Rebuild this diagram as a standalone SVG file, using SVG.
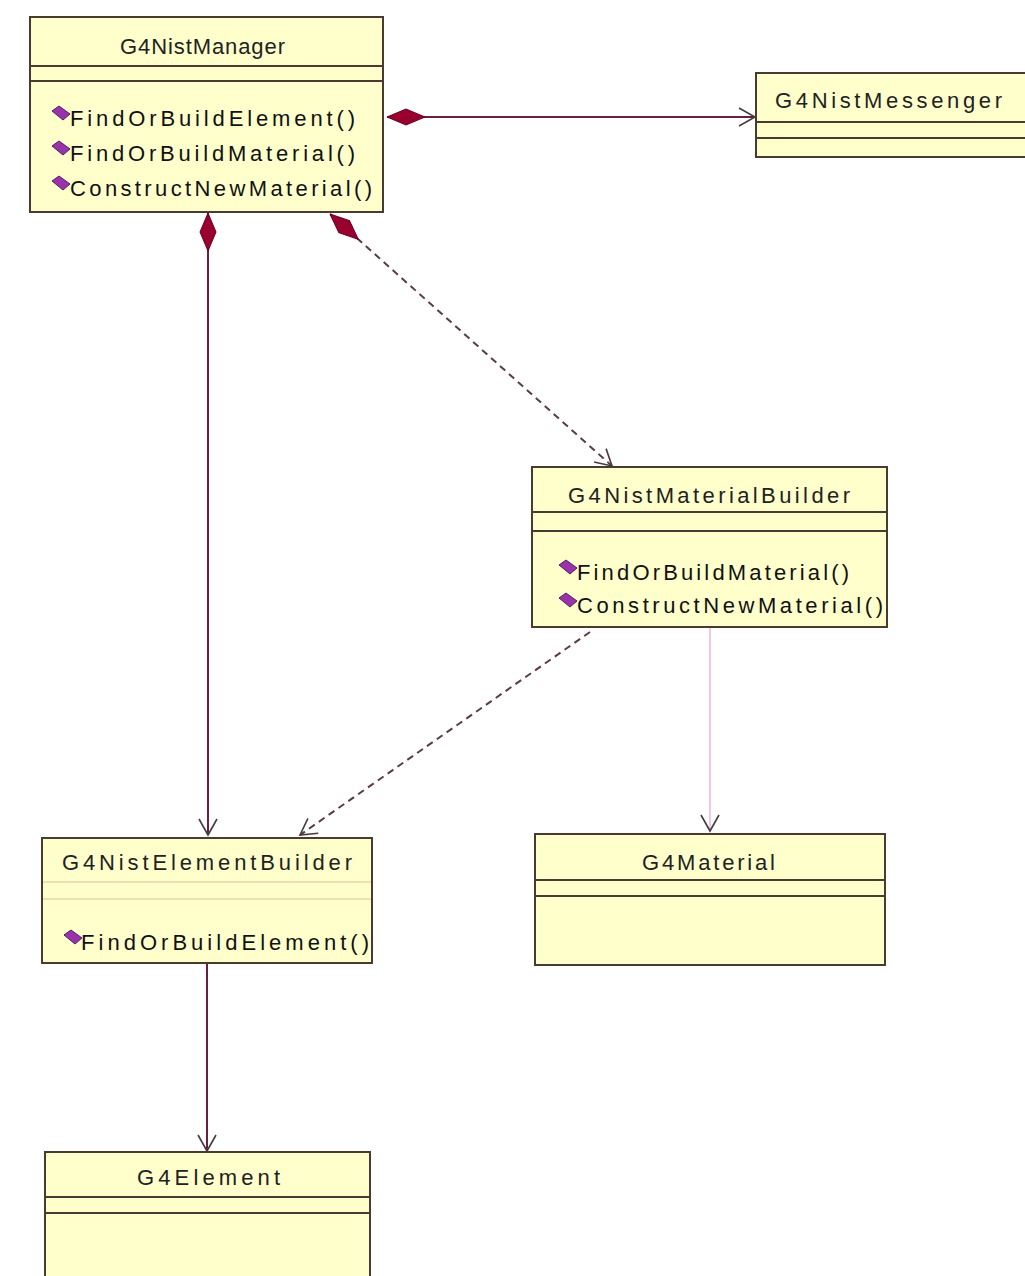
<svg xmlns="http://www.w3.org/2000/svg" width="1025" height="1276" viewBox="0 0 1025 1276">
<style>
.box{fill:#ffffcc;stroke:#4a3a30;stroke-width:2}
.sep{stroke:#4a3a30;stroke-width:2}
.sep-faint{stroke:#f0e0b0;stroke-width:2}
.name{font-family:"Liberation Sans",Arial,sans-serif;font-size:22px;fill:#222}
.op{font-family:"Liberation Sans",Arial,sans-serif;font-size:22px;fill:#111}
.icon{fill:#9933aa;stroke:#551a66;stroke-width:1}
.conn{fill:none;stroke:#6a1f45;stroke-width:2}
.dash{fill:none;stroke:#5a3a4a;stroke-width:2;stroke-dasharray:7 5}
.pale{fill:none;stroke:#f2c6e6;stroke-width:2}
</style>
<defs>
<marker id="diamond" markerUnits="userSpaceOnUse" markerWidth="40" markerHeight="20" viewBox="0 -10 40 20" refX="0" refY="0" orient="auto">
<path d="M0 0 L19 -8 L38 0 L19 8 Z" fill="#99002e" stroke="#6a0022" stroke-width="1"/>
</marker>
<marker id="open" markerUnits="userSpaceOnUse" markerWidth="20" markerHeight="22" viewBox="-18 -11 20 22" refX="0" refY="0" orient="auto">
<path d="M-16 -9 L0 0 L-16 9" fill="none" stroke="#4a3a40" stroke-width="1.6"/>
</marker>
</defs>
<rect width="1025" height="1276" fill="#ffffff"/>

<g id="connectors">
<path class="conn" d="M387 117 L755 117" marker-start="url(#diamond)" marker-end="url(#open)"/>
<path class="conn" d="M208 213 L208 835" marker-start="url(#diamond)" marker-end="url(#open)"/>
<path class="dash" d="M330 214 L612 466" marker-start="url(#diamond)" marker-end="url(#open)"/>
<path class="dash" d="M590 632 L300 835" marker-end="url(#open)"/>
<path class="pale" d="M710 627 L710 831" marker-end="url(#open)"/>
<path class="conn" d="M207 963 L207 1151" marker-end="url(#open)"/>
</g>

<g id="G4NistManager">
<rect class="box" x="30" y="17" width="353" height="195"/>
<line class="sep" x1="30" y1="66" x2="383" y2="66"/>
<line class="sep" x1="30" y1="81" x2="383" y2="81"/>
<text class="name" x="120" y="54" textLength="165" lengthAdjust="spacing">G4NistManager</text>
<path class="icon" d="M52 111 L59 106 L70 114 L63 120 Z"/>
<text class="op" x="70" y="126" textLength="285" lengthAdjust="spacing">FindOrBuildElement()</text>
<path class="icon" d="M52 146 L59 141 L70 149 L63 155 Z"/>
<text class="op" x="70" y="161" textLength="285" lengthAdjust="spacing">FindOrBuildMaterial()</text>
<path class="icon" d="M52 181 L59 176 L70 184 L63 190 Z"/>
<text class="op" x="70" y="196" textLength="302" lengthAdjust="spacing">ConstructNewMaterial()</text>
</g>

<g id="G4NistMessenger">
<rect class="box" x="756" y="73" width="280" height="84"/>
<line class="sep" x1="756" y1="122" x2="1030" y2="122"/>
<line class="sep" x1="756" y1="138" x2="1030" y2="138"/>
<text class="name" x="775" y="108" textLength="227" lengthAdjust="spacing">G4NistMessenger</text>
</g>

<g id="G4NistMaterialBuilder">
<rect class="box" x="532" y="467" width="355" height="160"/>
<line class="sep" x1="532" y1="512" x2="887" y2="512"/>
<line class="sep" x1="532" y1="531" x2="887" y2="531"/>
<text class="name" x="568" y="503" textLength="282" lengthAdjust="spacing">G4NistMaterialBuilder</text>
<path class="icon" d="M559 565 L566 560 L577 568 L570 574 Z"/>
<text class="op" x="577" y="580" textLength="272" lengthAdjust="spacing">FindOrBuildMaterial()</text>
<path class="icon" d="M559 598 L566 593 L577 601 L570 607 Z"/>
<text class="op" x="577" y="613" textLength="306" lengthAdjust="spacing">ConstructNewMaterial()</text>
</g>

<g id="G4NistElementBuilder">
<rect class="box" x="42" y="838" width="330" height="125"/>
<line class="sep-faint" x1="43" y1="882" x2="371" y2="882"/>
<line class="sep-faint" x1="43" y1="899" x2="371" y2="899"/>
<text class="name" x="62" y="870" textLength="290" lengthAdjust="spacing">G4NistElementBuilder</text>
<path class="icon" d="M64 935 L71 930 L82 938 L75 944 Z"/>
<text class="op" x="81" y="950" textLength="288" lengthAdjust="spacing">FindOrBuildElement()</text>
</g>

<g id="G4Material">
<rect class="box" x="535" y="834" width="350" height="131"/>
<line class="sep" x1="535" y1="880" x2="885" y2="880"/>
<line class="sep" x1="535" y1="896" x2="885" y2="896"/>
<text class="name" x="642" y="870" textLength="133" lengthAdjust="spacing">G4Material</text>
</g>

<g id="G4Element">
<rect class="box" x="45" y="1152" width="325" height="140"/>
<line class="sep" x1="45" y1="1197" x2="370" y2="1197"/>
<line class="sep" x1="45" y1="1213" x2="370" y2="1213"/>
<text class="name" x="137" y="1185" textLength="143" lengthAdjust="spacing">G4Element</text>
</g>
</svg>
